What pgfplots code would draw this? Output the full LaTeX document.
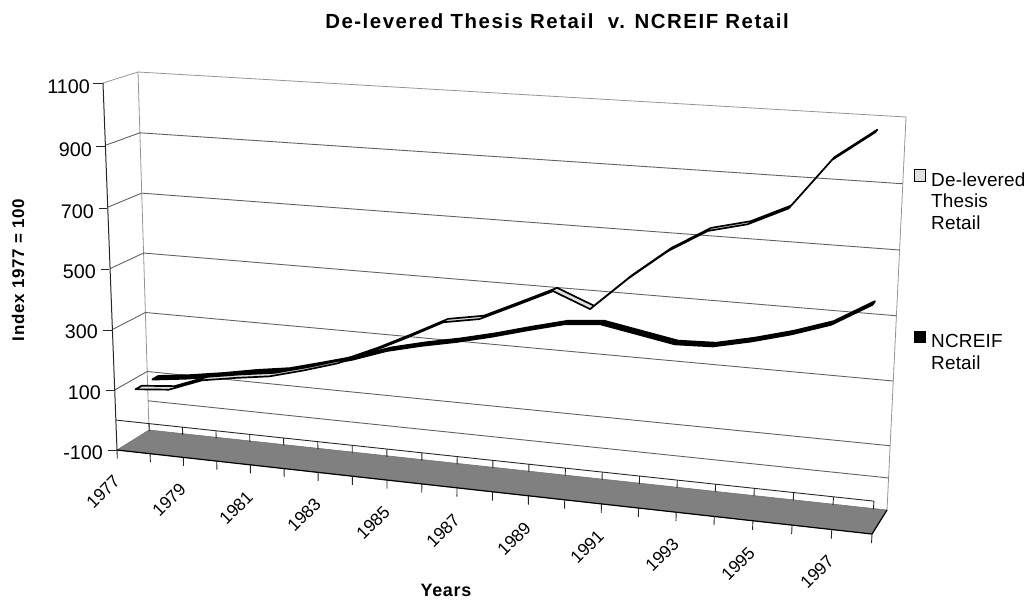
\documentclass[border=0pt]{standalone}
\usepackage{pgfplots}
\usepackage{pgfplotstable}
\usepackage{fontspec}
\setmainfont{Liberation Sans}
\newfontfamily\chtitlefont{Liberation Sans}[LetterSpace=7.5]
\newfontfamily\chaxisfont{Liberation Sans}[LetterSpace=4]
\newfontfamily\chlegendfont{Liberation Sans}[LetterSpace=1]
\pgfplotsset{compat=1.18}
% projection of (category position k, index value v, depth w) to picture position
\pgfmathdeclarefunction{tw}{1}{\pgfmathparse{(33*(#1)+0.0597*(#1)*(#1)+0.0038*(#1)*(#1)*(#1))/754.5}}
\pgfmathdeclarefunction{sw}{1}{\pgfmathparse{(358.6*((#1)+100)/1200+8.4*(((#1)+100)/1200)*(((#1)+100)/1200))/367}}
\pgfmathdeclarefunction{PX}{3}{\pgfmathparse{(1-(#3))*((1-sw(#2))*((1-tw(#1))*117+tw(#1)*872)+sw(#2)*((1-tw(#1))*103+tw(#1)*895))+(#3)*((1-sw(#2))*((1-tw(#1))*149+tw(#1)*887)+sw(#2)*((1-tw(#1))*138+tw(#1)*906))}}
\pgfmathdeclarefunction{PY}{3}{\pgfmathparse{(1-(#3))*((1-sw(#2))*((1-tw(#1))*450+tw(#1)*534)+sw(#2)*((1-tw(#1))*83+tw(#1)*131))+(#3)*((1-sw(#2))*((1-tw(#1))*430+tw(#1)*510)+sw(#2)*((1-tw(#1))*72+tw(#1)*117))}}
\pgfkeys{
  /pgfplots/table/kvw/.style={x expr={PX(\thisrow{k},\thisrow{v},\thisrow{w})},y expr={PY(\thisrow{k},\thisrow{v},\thisrow{w})},row sep=\\},
  /pgfplots/table/series/.style={x expr={PX(\thisrow{year}-1976.5,\thisrow{value},\thisrow{w})},y expr={PY(\thisrow{year}-1976.5,\thisrow{value},\thisrow{w})}},
}
\pgfplotsset{
  grid line/.style={color=black!62,line width=0.9pt,no markers},
  wall line/.style={color=black!42,line width=0.8pt,no markers},
  tick line/.style={color=black!85,line width=0.9pt,no markers},
}
\pgfplotstableread{
year value w
1977 100 0.13
1978 110 0.13
1979 152 0.13
1980 171 0.13
1981 187 0.13
1982 217 0.13
1983 251 0.13
1984 300 0.13
1985 355 0.13
1986 413 0.13
1987 433 0.13
1988 486 0.13
1989 540 0.13
1990 494 0.13
1991 599 0.13
1992 691 0.13
1993 761 0.13
1994 790 0.13
1995 846 0.13
1996 998 0.13
1997 1087 0.13
1997 1087 0.32
1996 998 0.32
1995 846 0.32
1994 790 0.32
1993 761 0.32
1992 691 0.32
1991 599 0.32
1990 494 0.32
1989 540 0.32
1988 486 0.32
1987 433 0.32
1986 413 0.32
1985 355 0.32
1984 300 0.32
1983 251 0.32
1982 217 0.32
1981 187 0.32
1980 171 0.32
1979 152 0.32
1978 110 0.32
1977 100 0.32
}\delevered
\pgfplotstableread{
year value w
1977 100 0.66
1978 114 0.66
1979 132 0.66
1980 153 0.66
1981 170 0.66
1982 200 0.66
1983 231 0.66
1984 270 0.66
1985 297 0.66
1986 320 0.66
1987 347 0.66
1988 378 0.66
1989 407 0.66
1990 417 0.66
1991 396 0.66
1992 375 0.66
1993 379 0.66
1994 405 0.66
1995 437 0.66
1996 477 0.66
1997 548 0.66
1997 548 0.84
1996 477 0.84
1995 437 0.84
1994 405 0.84
1993 379 0.84
1992 375 0.84
1991 396 0.84
1990 417 0.84
1989 407 0.84
1988 378 0.84
1987 347 0.84
1986 320 0.84
1985 297 0.84
1984 270 0.84
1983 231 0.84
1982 200 0.84
1981 170 0.84
1980 153 0.84
1979 132 0.84
1978 114 0.84
1977 100 0.84
}\ncreif
\newcommand{\fs}[1]{\fontsize{#1}{#1}\selectfont}
\newcommand{\yl}[3]{\node[anchor=east,rotate=45,inner sep=0pt,font=\fs{17.5}] at (axis cs:#2,#3) {#1};}
\newcommand{\vl}[3]{\node[anchor=base east,inner sep=0pt,font=\fs{19.8}] at (axis cs:#2,#3) {#1};}
\newcommand{\lgl}[3]{\node[anchor=base west,inner sep=0pt,font=\chlegendfont\fs{19}] at (axis cs:#2,#3) {#1};}
\begin{document}
\begin{tikzpicture}[x=1pt,y=1pt]
\begin{axis}[
  scale only axis,width=1033bp,height=601bp,
  xmin=0,xmax=1033,ymin=0,ymax=601,y dir=reverse,
  hide axis,clip=false,
]
\path (axis cs:0,0) rectangle (axis cs:1033,601);
% floor
\addplot[fill=black!50,draw=black!55,line width=0.6pt,no markers] table[kvw]{k v w\\0 -100 0\\0 -100 1\\21 -100 1\\21 -100 0\\} -- cycle;
\addplot[color=black,line width=1.2pt,no markers] table[kvw]{k v w\\0 -100 0\\21 -100 0\\21 -100 1\\};
% walls
\addplot[wall line] table[kvw]{k v w\\0 -100 1\\0 1100 1\\21 1100 1\\21 -100 1\\};
\addplot[wall line] table[kvw]{k v w\\0 1100 0\\0 1100 1\\};
% grid lines on side and back walls
\pgfplotsinvokeforeach{900,700,500,300,100}{
  \addplot[grid line] table[kvw]{k v w\\0 #1 0\\0 #1 1\\21 #1 1\\};
}
\addplot[grid line] table[kvw]{k v w\\0 0 1\\21 0 1\\};
% axis at value 0 on the front plane, with its ticks
\addplot[tick line] table[kvw]{k v w\\0 0 0\\21 0 0\\};
\pgfplotsinvokeforeach{1,...,21}{
  \addplot[tick line] table[kvw]{k v w\\#1 0 0\\#1 -25 0\\};
}
% front ticks below the floor
\pgfplotsinvokeforeach{0,...,21}{
  \addplot[tick line] table[kvw]{k v w\\#1 -100 0\\#1 -128 0\\};
}
% value axis
\addplot[color=black!85,line width=1pt,no markers] table[kvw]{k v w\\0 -100 0\\0 1100 0\\};
\addplot[tick line] coordinates {(93,83)(103,83)};
\addplot[tick line] coordinates {(96,146)(105,146)};
\addplot[tick line] coordinates {(99,208)(107,208)};
\addplot[tick line] coordinates {(101,269)(109,269)};
\addplot[tick line] coordinates {(103,330)(112,330)};
\addplot[tick line] coordinates {(106,390)(115,390)};
\addplot[tick line] coordinates {(108,450)(117,450)};
% series
\addplot[fill=black,draw=black,line width=2pt,line join=round,no markers] table[series]{\ncreif} -- cycle;
\addplot[fill=black!12,draw=black,line width=1.7pt,line join=round,no markers] table[series]{\delevered} -- cycle;
% legend keys
\draw[black,line width=1.2pt,fill=black!12] (axis cs:914.5,169.5) rectangle (axis cs:925.5,181.5);
\fill[black] (axis cs:914,331) rectangle (axis cs:926,343);
% texts
\node[anchor=base,font=\chtitlefont\bfseries\fs{20.5}] at (axis cs:557,29) {De-levered Thesis Retail\ \ v. NCREIF Retail};
\node[anchor=base,rotate=90,font=\chaxisfont\bfseries\fs{17}] at (axis cs:24,270) {Index 1977 = 100};
\node[anchor=base,font=\chaxisfont\bfseries\fs{18}] at (axis cs:446,596) {Years};
\vl{1100}{90}{93}
\vl{900}{92}{156}
\vl{700}{94}{218}
\vl{500}{96}{278}
\vl{300}{98}{338}
\vl{100}{101}{399}
\vl{-100}{103}{459}
\yl{1977}{117}{478}
\yl{1979}{183}{486}
\yl{1981}{250}{494}
\yl{1983}{318}{501}
\yl{1985}{387}{509}
\yl{1987}{457}{517}
\yl{1989}{528}{525}
\yl{1991}{601}{533}
\yl{1993}{676}{541}
\yl{1995}{752}{550}
\yl{1997}{831}{558}
\lgl{De-levered}{931}{186}
\lgl{Thesis}{931}{207}
\lgl{Retail}{931}{229}
\lgl{NCREIF}{931}{347}
\lgl{Retail}{931}{369}
\end{axis}
\end{tikzpicture}
\end{document}
